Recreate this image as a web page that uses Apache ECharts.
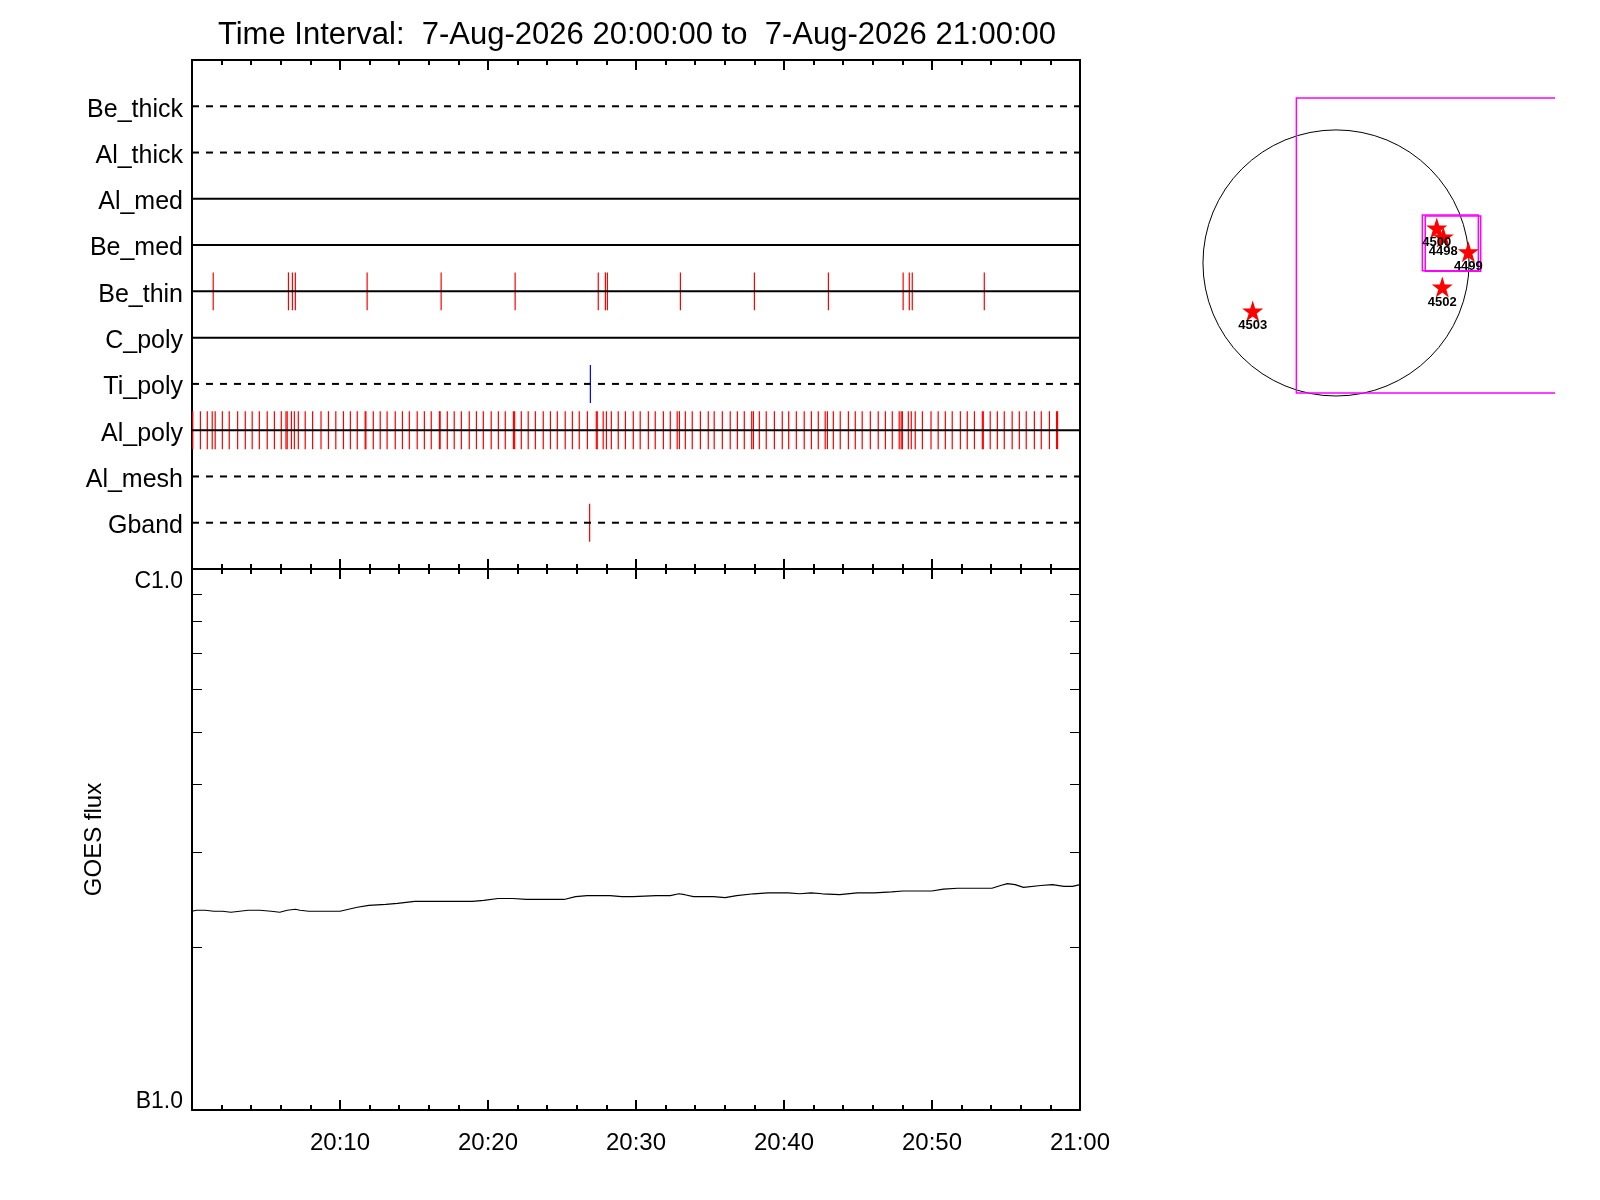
<!DOCTYPE html>
<html>
<head>
<meta charset="utf-8">
<title>Time Interval</title>
<script src="https://cdn.jsdelivr.net/npm/echarts@6/dist/echarts.min.js"></script>
<style>
  html, body { margin: 0; padding: 0; background: #fff; }
  #chart { width: 1600px; height: 1200px; }
</style>
</head>
<body>
<div id="chart"></div>
<script>
// detector rows, top to bottom
const rowNames = ['Be_thick', 'Al_thick', 'Al_med', 'Be_med', 'Be_thin', 'C_poly', 'Ti_poly', 'Al_poly', 'Al_mesh', 'Gband'];

// event times, seconds after 20:00:00
const beThinTimes = [86, 391, 407, 419, 710, 1010, 1310, 1647, 1676, 1684, 1980, 2280, 2580, 2883, 2908, 2920, 3212];
const tiPolyTimes = [1615];
const gbandTimes = [1612];
const alPolyTimes = [
  3, 34, 62, 82, 94, 123, 151, 185, 216, 244, 273, 305, 334, 362, 381, 386, 403, 415, 431, 459,
  489, 523, 553, 583, 614, 642, 670, 702, 705, 735, 763, 791, 824, 853, 881, 913, 942, 970, 1003, 1006,
  1035, 1063, 1092, 1124, 1153, 1181, 1213, 1242, 1270, 1303, 1308, 1335, 1363, 1392, 1424, 1453, 1481, 1513, 1542, 1570,
  1603, 1639, 1643, 1667, 1680, 1700, 1728, 1757, 1789, 1817, 1850, 1878, 1911, 1939, 1967, 1976, 2000, 2028, 2061, 2093,
  2117, 2150, 2182, 2211, 2239, 2269, 2276, 2300, 2328, 2361, 2393, 2419, 2450, 2482, 2511, 2539, 2567, 2576, 2600, 2628,
  2661, 2689, 2717, 2750, 2782, 2811, 2839, 2867, 2875, 2880, 2904, 2916, 2932, 2961, 2996, 3025, 3054, 3082, 3115, 3143,
  3172, 3204, 3208, 3236, 3265, 3293, 3325, 3354, 3382, 3415, 3443, 3476, 3505, 3509
];

// GOES flux (W/m^2) vs seconds after 20:00:00
const goesTimes = [
  0, 18, 53, 89, 123, 158, 193, 228, 275, 321, 356, 386, 419, 438, 473, 531, 600, 635, 670, 717,
  786, 833, 868, 903, 973, 1066, 1136, 1183, 1241, 1299, 1357, 1427, 1508, 1555, 1602, 1695, 1742, 1788, 1881, 1939,
  1974, 1998, 2033, 2067, 2114, 2161, 2208, 2277, 2335, 2417, 2464, 2510, 2556, 2626, 2697, 2766, 2836, 2883, 2918, 2952,
  2999, 3046, 3104, 3185, 3243, 3278, 3306, 3337, 3371, 3441, 3488, 3535, 3570, 3600
];
const goesFlux = [
  2.33e-7, 2.34e-7, 2.34e-7, 2.33e-7, 2.33e-7, 2.32e-7, 2.33e-7, 2.34e-7, 2.34e-7, 2.33e-7, 2.32e-7, 2.34e-7, 2.35e-7, 2.34e-7, 2.33e-7, 2.33e-7, 2.33e-7, 2.35e-7, 2.37e-7, 2.39e-7,
  2.40e-7, 2.41e-7, 2.42e-7, 2.43e-7, 2.43e-7, 2.43e-7, 2.43e-7, 2.44e-7, 2.46e-7, 2.46e-7, 2.45e-7, 2.45e-7, 2.45e-7, 2.48e-7, 2.49e-7, 2.49e-7, 2.48e-7, 2.48e-7, 2.49e-7, 2.49e-7,
  2.51e-7, 2.50e-7, 2.48e-7, 2.48e-7, 2.48e-7, 2.47e-7, 2.49e-7, 2.51e-7, 2.52e-7, 2.52e-7, 2.51e-7, 2.52e-7, 2.51e-7, 2.50e-7, 2.52e-7, 2.52e-7, 2.53e-7, 2.54e-7, 2.54e-7, 2.54e-7,
  2.54e-7, 2.56e-7, 2.57e-7, 2.57e-7, 2.57e-7, 2.60e-7, 2.62e-7, 2.61e-7, 2.58e-7, 2.60e-7, 2.61e-7, 2.59e-7, 2.59e-7, 2.61e-7
];
const fluxTicks = [1e-7, 2e-7, 3e-7, 4e-7, 5e-7, 6e-7, 7e-7, 8e-7, 9e-7, 1e-6];

// solar map, arcsec
const solarRadius = 960;
const arNumbers = ['4498', '4499', '4502', '4503', '4500'];
const arX = [774, 955, 767, -601, 727];
const arY = [188, 80, -173, -346, 253];
const fovBoxes = [
  [-286, -938, 2000, 1190],
  [623, -56, 1027, 346],
  [644, -60, 1044, 339]
];

const FONT = "'Liberation Sans', Arial, sans-serif";
const dashedRows = ['Be_thick', 'Al_thick', 'Ti_poly', 'Al_mesh', 'Gband'];
const rowOf = name => rowNames.indexOf(name) + 1;
const hhmm = s => {
  const m = Math.round(s / 60);
  return (20 + Math.floor(m / 60)) + ':' + String(m % 60).padStart(2, '0');
};

function eventTicks(color) {
  return function (params, api) {
    const t = api.value(0), row = api.value(1);
    const a = api.coord([t, row - 0.41]);
    const b = api.coord([t, row + 0.41]);
    return {
      type: 'line',
      shape: { x1: a[0], y1: a[1], x2: b[0], y2: b[1] },
      style: { stroke: color, lineWidth: 1.2 }
    };
  };
}

const chart = echarts.init(document.getElementById('chart'), null, { renderer: 'canvas' });

const timeAxisBase = {
  type: 'value', min: 0, max: 3600, interval: 600,
  axisLine: { onZero: false, lineStyle: { color: '#000', width: 2 } },
  axisTick: { inside: true, length: 10, lineStyle: { color: '#000', width: 2 } },
  minorTick: { show: true, splitNumber: 5, length: 5, lineStyle: { color: '#000', width: 2 } },
  splitLine: { show: false },
  axisLabel: { show: false }
};

const option = {
  backgroundColor: '#fff',
  animation: false,
  title: {
    text: 'Time Interval:  7-Aug-2026 20:00:00 to  7-Aug-2026 21:00:00',
    left: 632, top: 15, textAlign: 'center',
    textStyle: { fontFamily: FONT, fontSize: 31, fontWeight: 'normal', color: '#000' }
  },
  grid: [
    { left: 192, top: 60, width: 888, height: 509 },
    { left: 192, top: 569, width: 888, height: 541 },
    { left: 1169.7, top: 82.8, width: 384.3, height: 332.6 }
  ],
  xAxis: [
    Object.assign({}, timeAxisBase, { gridIndex: 0, position: 'top' }),
    Object.assign({}, timeAxisBase, { gridIndex: 0, position: 'bottom' }),
    Object.assign({}, timeAxisBase, { gridIndex: 1, position: 'top' }),
    Object.assign({}, timeAxisBase, {
      gridIndex: 1, position: 'bottom',
      axisLabel: {
        show: true, showMinLabel: false, margin: 21,
        fontFamily: FONT, fontSize: 24, color: '#000',
        formatter: v => hhmm(v)
      }
    }),
    { gridIndex: 2, type: 'value', min: -1200, max: 1573, show: false }
  ],
  yAxis: [
    {
      gridIndex: 0, type: 'value', min: 0, max: 11, interval: 1, inverse: true,
      axisLine: { onZero: false, lineStyle: { color: '#000', width: 2 } },
      axisTick: { show: false },
      splitLine: { show: false },
      axisLabel: {
        margin: 9, color: '#000',
        formatter: v => (rowNames[v - 1] ? '{r|' + rowNames[v - 1] + '}' : ''),
        rich: { r: { fontFamily: FONT, fontSize: 25, color: '#000', padding: [7, 0, 0, 0] } }
      }
    },
    {
      gridIndex: 0, type: 'value', min: 0, max: 11, position: 'right',
      axisLine: { show: true, onZero: false, lineStyle: { color: '#000', width: 2 } },
      axisTick: { show: false }, axisLabel: { show: false }, splitLine: { show: false }
    },
    {
      gridIndex: 1, type: 'log', logBase: 10, min: 1e-7, max: 1e-6,
      name: 'GOES flux', nameLocation: 'middle', nameGap: 86, nameRotate: 90,
      nameTextStyle: { fontFamily: FONT, fontSize: 24, color: '#000' },
      axisLine: { show: true, onZero: false, lineStyle: { color: '#000', width: 2 } },
      axisTick: { inside: true, length: 10, customValues: fluxTicks, lineStyle: { color: '#000', width: 1 } },
      splitLine: { show: false },
      axisLabel: {
        margin: 9, fontFamily: FONT, fontSize: 23, color: '#000',
        formatter: v => (v > 5e-7 ? '{c|C1.0}' : '{b|B1.0}'),
        rich: {
          c: { fontFamily: FONT, fontSize: 23, color: '#000', padding: [26, 0, 0, 0] },
          b: { fontFamily: FONT, fontSize: 23, color: '#000', padding: [0, 0, 16, 0] }
        }
      }
    },
    {
      gridIndex: 1, type: 'log', logBase: 10, min: 1e-7, max: 1e-6, position: 'right',
      axisLine: { show: true, onZero: false, lineStyle: { color: '#000', width: 2 } },
      axisTick: { inside: true, length: 10, customValues: fluxTicks, lineStyle: { color: '#000', width: 1 } },
      axisLabel: { show: false }, splitLine: { show: false }
    },
    { gridIndex: 2, type: 'value', min: -1100, max: 1300, show: false }
  ],
  series: [
    {
      type: 'custom', xAxisIndex: 0, yAxisIndex: 0, z: 3,
      renderItem: eventTicks('#ff0000'),
      data: beThinTimes.map(t => [t, rowOf('Be_thin')])
    },
    {
      type: 'custom', xAxisIndex: 0, yAxisIndex: 0, z: 3,
      renderItem: eventTicks('#ff0000'),
      data: alPolyTimes.map(t => [t, rowOf('Al_poly')])
    },
    {
      type: 'custom', xAxisIndex: 0, yAxisIndex: 0, z: 3,
      renderItem: eventTicks('#0000ff'),
      data: tiPolyTimes.map(t => [t, rowOf('Ti_poly')])
    },
    {
      type: 'custom', xAxisIndex: 0, yAxisIndex: 0, z: 3,
      renderItem: eventTicks('#ff0000'),
      data: gbandTimes.map(t => [t, rowOf('Gband')])
    },
    {
      // detector baselines
      type: 'custom', xAxisIndex: 0, yAxisIndex: 0, z: 4,
      renderItem: function (params, api) {
        const row = api.value(0);
        const a = api.coord([0, row]);
        const b = api.coord([3600, row]);
        const dashed = dashedRows.indexOf(rowNames[row - 1]) >= 0;
        return {
          type: 'line',
          shape: { x1: a[0], y1: a[1], x2: b[0], y2: b[1] },
          style: { stroke: '#000', lineWidth: 2, lineDash: dashed ? [7, 7] : null }
        };
      },
      data: rowNames.map((n, i) => [i + 1])
    },
    {
      type: 'line', xAxisIndex: 3, yAxisIndex: 2,
      showSymbol: false, symbol: 'none',
      lineStyle: { color: '#000', width: 1.2 },
      data: goesTimes.map((t, i) => [t, goesFlux[i]])
    },
    {
      // solar disk
      type: 'custom', xAxisIndex: 4, yAxisIndex: 4, clip: true,
      renderItem: function (params, api) {
        const c = api.coord([api.value(0), api.value(1)]);
        const r = api.size([api.value(2), 0])[0];
        return {
          type: 'circle',
          shape: { cx: c[0], cy: c[1], r: r },
          style: { fill: 'none', stroke: '#000', lineWidth: 1 }
        };
      },
      data: [[0, 0, solarRadius]]
    },
    {
      // fields of view
      type: 'custom', xAxisIndex: 4, yAxisIndex: 4, clip: true,
      renderItem: function (params, api) {
        const p0 = api.coord([api.value(0), api.value(3)]);
        const p1 = api.coord([api.value(2), api.value(1)]);
        return {
          type: 'rect',
          shape: { x: p0[0], y: p0[1], width: p1[0] - p0[0], height: p1[1] - p0[1] },
          style: { fill: 'none', stroke: '#ff00ff', lineWidth: 1.5 }
        };
      },
      data: fovBoxes
    },
    {
      type: 'scatter', xAxisIndex: 4, yAxisIndex: 4, z: 5,
      symbol: 'path://M50,0 L61.8,36.2 L100,36.2 L69.1,58.8 L80.9,95.1 L50,72.7 L19.1,95.1 L30.9,58.8 L0,36.2 L38.2,36.2 Z',
      symbolSize: 21,
      itemStyle: { color: '#ff0000', opacity: 1 },
      label: {
        show: true, position: 'bottom', distance: -2,
        formatter: '{b}', fontFamily: FONT, fontSize: 13, fontWeight: 'bold', color: '#000'
      },
      data: arNumbers.map((n, i) => ({ name: n, value: [arX[i], arY[i]] }))
    }
  ]
};

chart.setOption(option);
</script>
</body>
</html>
